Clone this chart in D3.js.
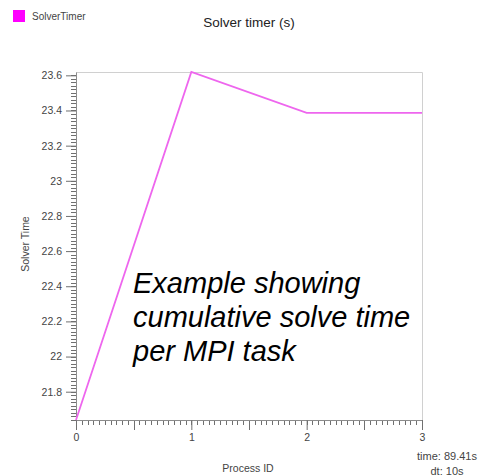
<!DOCTYPE html>
<html>
<head>
<meta charset="utf-8">
<script src="https://cdn.jsdelivr.net/npm/d3@7"></script>
<style>
  html, body { margin: 0; padding: 0; background: #fff; }
  svg { display: block; font-family: "Liberation Sans", Arial, sans-serif; }
</style>
</head>
<body>
<svg id="chart" width="481" height="476"></svg>
<script>
// Cumulative solver time per MPI task
const processIds = [0, 1, 2, 3];
const solverTimes = [21.639, 23.619, 23.386, 23.386];
const seriesName = "SolverTimer";
const xMajorTicks = [0, 1, 2, 3];
const yMajorTicks = [21.8, 22, 22.2, 22.4, 22.6, 22.8, 23, 23.2, 23.4, 23.6];
const noteLines = ["Example showing", "cumulative solve time", "per MPI task"];
const footerLines = ["time: 89.41s", "dt: 10s"];

const svg = d3.select("#chart");
const m = { left: 76, right: 422, top: 72, bottom: 420 };

const x = d3.scaleLinear().domain([0, 3]).range([m.left, m.right]);
const y = d3.scaleLinear().domain(d3.extent(solverTimes)).range([m.bottom, m.top]);

const axisColor = "#8c8c8c";
const tickColor = "#707070";
const textColor = "#444";

// plot frame (top and right edges)
svg.append("path")
  .attr("d", `M${m.left},${m.top + 0.5}H${m.right + 0.5}V${m.bottom}`)
  .attr("fill", "none").attr("stroke", "#d0d0d0").attr("stroke-width", 1);

// minor tick marks as thin rects placed by the scales
const yMinorVals = y.ticks(100);
const xMinorVals = x.ticks(60);
const xHalfVals = [0.5, 1.5, 2.5];
const ticks = svg.append("g").attr("fill", tickColor);
ticks.selectAll("rect.ym").data(yMinorVals).join("rect").attr("class", "ym")
  .attr("x", m.left - 5).attr("width", 5)
  .attr("y", d => Math.round(y(d))).attr("height", 1);
ticks.selectAll("rect.xm").data(xMinorVals).join("rect").attr("class", "xm")
  .attr("x", d => Math.round(x(d))).attr("width", 1)
  .attr("y", m.bottom).attr("height", 5);
ticks.selectAll("rect.xh").data(xHalfVals).join("rect").attr("class", "xh")
  .attr("x", d => Math.round(x(d))).attr("width", 1)
  .attr("y", m.bottom).attr("height", 10);

// major axes with labels
const yAxis = d3.axisLeft(y).tickValues(yMajorTicks).tickSize(10).tickPadding(4)
  .tickFormat(d3.format("~g")).tickSizeOuter(0);
svg.append("g").attr("transform", `translate(${m.left},0)`).call(yAxis)
  .call(g => g.select(".domain").attr("stroke", axisColor))
  .call(g => g.selectAll(".tick line").attr("stroke", tickColor))
  .call(g => g.selectAll("text").attr("fill", textColor).attr("font-size", 10.5)
    .attr("font-family", "Liberation Sans, Arial, sans-serif"));

const xAxis = d3.axisBottom(x).tickValues(xMajorTicks).tickSize(10).tickPadding(4)
  .tickFormat(d3.format("d")).tickSizeOuter(0);
svg.append("g").attr("transform", `translate(0,${m.bottom})`).call(xAxis)
  .call(g => g.select(".domain").attr("stroke", axisColor))
  .call(g => g.selectAll(".tick line").attr("stroke", tickColor))
  .call(g => g.selectAll("text").attr("fill", textColor).attr("font-size", 10.5)
    .attr("font-family", "Liberation Sans, Arial, sans-serif"));

// series line
const line = d3.line().x((d, i) => x(processIds[i])).y(d => y(d));
svg.append("path").datum(solverTimes)
  .attr("d", line)
  .attr("fill", "none")
  .attr("stroke", "#ee66ee")
  .attr("stroke-width", 1.8);

// title
svg.append("text").attr("x", 249).attr("y", 27).attr("text-anchor", "middle")
  .attr("font-size", 13.5).attr("fill", "#222").text("Solver timer (s)");

// legend
svg.append("rect").attr("x", 13).attr("y", 10).attr("width", 12).attr("height", 12)
  .attr("fill", "#ff00ff");
svg.append("text").attr("x", 32).attr("y", 19.5).attr("font-size", 10)
  .attr("fill", textColor).text(seriesName);

// axis titles
svg.append("text").attr("x", 248).attr("y", 472).attr("text-anchor", "middle")
  .attr("font-size", 10.5).attr("fill", textColor).text("Process ID");
svg.append("text").attr("transform", "translate(29,244) rotate(-90)")
  .attr("text-anchor", "middle").attr("font-size", 10.5).attr("fill", textColor)
  .text("Solver Time");

// annotation
svg.append("text").attr("font-size", 29).attr("font-style", "italic").attr("fill", "#000")
  .selectAll("tspan").data(noteLines).join("tspan")
  .attr("x", 133).attr("y", (d, i) => 293 + i * 34).text(d => d);

// footer
svg.append("text").attr("font-size", 11).attr("fill", textColor).attr("text-anchor", "middle")
  .selectAll("tspan").data(footerLines).join("tspan")
  .attr("x", 447).attr("y", (d, i) => 460 + i * 14.5).text(d => d);
</script>
</body>
</html>
